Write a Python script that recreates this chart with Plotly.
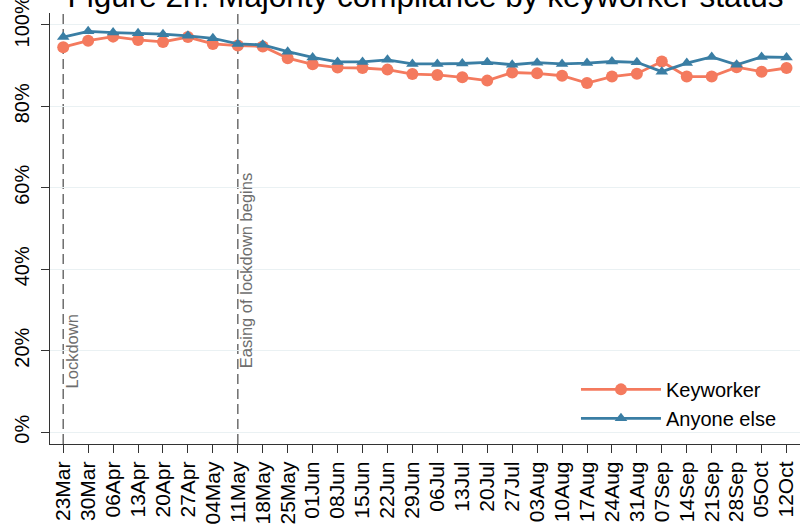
import plotly.graph_objects as go

weeks = ["23Mar", "30Mar", "06Apr", "13Apr", "20Apr", "27Apr", "04May", "11May",
         "18May", "25May", "01Jun", "08Jun", "15Jun", "22Jun", "29Jun", "06Jul",
         "13Jul", "20Jul", "27Jul", "03Aug", "10Aug", "17Aug", "24Aug", "31Aug",
         "07Sep", "14Sep", "21Sep", "28Sep", "05Oct", "12Oct"]

keyworker = [94.5, 96.1, 97.1, 96.3, 95.8, 97.0, 95.3, 94.9, 94.7, 91.8,
             90.3, 89.5, 89.4, 89.0, 87.9, 87.7, 87.1, 86.3, 88.3, 88.1,
             87.5, 85.7, 87.3, 88.0, 91.0, 87.3, 87.3, 89.6, 88.5, 89.4]

anyone_else = [97.0, 98.4, 98.1, 97.9, 97.7, 97.3, 96.7, 95.3, 95.1, 93.4,
               92.0, 90.9, 90.9, 91.4, 90.4, 90.4, 90.5, 90.8, 90.2, 90.7,
               90.4, 90.6, 91.0, 90.8, 88.5, 90.6, 92.1, 90.2, 92.1, 92.0]

y_ticks = [0, 20, 40, 60, 80, 100]
y_tick_labels = ["0%", "20%", "40%", "60%", "80%", "100%"]

events = [("23Mar", "Lockdown", 10.3), ("11May", "Easing of lockdown begins", 15.3)]

title_text = "Figure 2h: Majority compliance by keyworker status"

FONT = "Liberation Sans, Arial, sans-serif"
ORANGE = "#F47A5E"
BLUE = "#3A7EA4"
GRAY = "#6E6E6E"

fig = go.Figure()
fig.add_trace(go.Scatter(
    x=weeks, y=keyworker, name="Keyworker", mode="lines+markers",
    line=dict(color=ORANGE, width=2.8),
    marker=dict(symbol="circle", size=12, color=ORANGE),
))
fig.add_trace(go.Scatter(
    x=weeks, y=anyone_else, name="Anyone else", mode="lines+markers",
    line=dict(color=BLUE, width=2.8),
    marker=dict(symbol="triangle-up", size=11, color=BLUE),
))

for wk, label, ypos in events:
    fig.add_shape(type="line", xref="x", yref="paper", x0=wk, x1=wk, y0=0, y1=1,
                  line=dict(color=GRAY, width=1.5, dash="10px,5px"), layer="below")
    fig.add_annotation(x=wk, y=ypos, xref="x", yref="y", text=label, textangle=-90,
                       showarrow=False, xanchor="left", yanchor="bottom",
                       font=dict(family=FONT, size=16.5, color=GRAY), xshift=-2)

fig.update_layout(
    width=812, height=526,
    margin=dict(l=50, r=12, t=13, b=82, autoexpand=False),
    paper_bgcolor="white", plot_bgcolor="white",
    font=dict(family=FONT, color="black"),
    title=dict(text=title_text, font=dict(family=FONT, size=31.5, color="black"),
               x=0.524, xanchor="center", xref="container",
               y=1 - 7 / 526, yanchor="bottom", yref="container"),
    showlegend=True,
    legend=dict(x=0.7013, xanchor="left", y=0.172, yanchor="top",
                bgcolor="rgba(0,0,0,0)", font=dict(family=FONT, size=20),
                itemwidth=80),
)

fig.update_xaxes(
    type="category", range=[-0.53, 29.54], automargin=False,
    tickmode="array", tickvals=weeks, ticktext=weeks, tickangle=-90,
    tickfont=dict(family=FONT, size=21, color="black"),
    ticks="outside", ticklen=8, tickwidth=1.2, tickcolor="#333333",
    showline=True, linecolor="#333333", linewidth=1.2,
    showgrid=False, zeroline=False, ticklabeloverflow="allow",
)
fig.update_yaxes(
    range=[-2.9, 102.9], automargin=False,
    tickmode="array", tickvals=y_ticks, ticktext=y_tick_labels,
    tickangle=-90, tickfont=dict(family=FONT, size=20, color="black"),
    ticks="outside", ticklen=8, tickwidth=1.2, tickcolor="#333333",
    showline=True, linecolor="#333333", linewidth=1.2,
    showgrid=True, gridcolor="#EAF1F3", gridwidth=1.2, zeroline=False,
    ticklabelstandoff=4, ticklabeloverflow="allow",
)

fig.write_html(
    "out.html",
    config={"displayModeBar": False},
    post_script="document.body.style.margin='0';document.body.style.padding='0';"
                "document.body.style.overflow='hidden';",
)
